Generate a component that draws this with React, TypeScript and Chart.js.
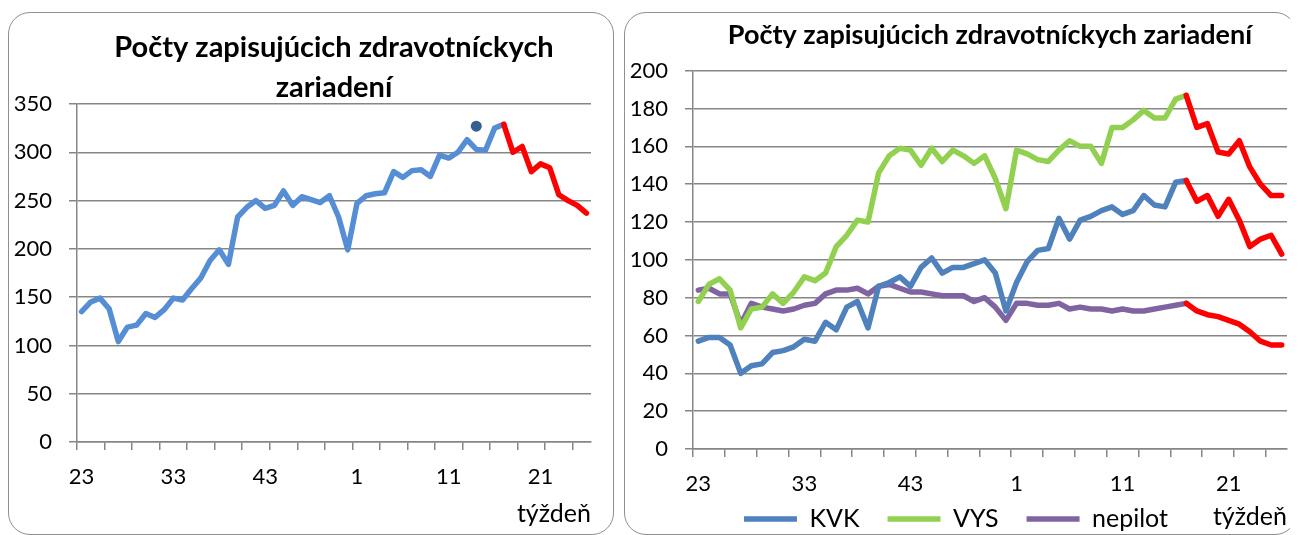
import React, { useEffect, useRef } from 'react';
import { Chart, registerables } from 'chart.js';

Chart.register(...registerables);

// ---------- data ----------
const WEEKS = [
  23, 24, 25, 26, 27, 28, 29, 30, 31, 32, 33, 34, 35, 36, 37, 38, 39, 40, 41, 42,
  43, 44, 45, 46, 47, 48, 49, 50, 51, 52, 1, 2, 3, 4, 5, 6, 7, 8, 9, 10,
  11, 12, 13, 14, 15, 16, 17, 18, 19, 20, 21, 22, 23, 24, 25, 26,
];

const TOTAL = [
  135, 145, 149, 138, 104, 119, 121, 133, 129, 137,
  149, 147, 159, 170, 188, 199, 184, 233, 243, 250,
  242, 245, 260, 245, 254, 251, 248, 255, 233, 199,
  247, 255, 257, 258, 280, 274, 281, 282, 275, 297,
  294, 300, 313, 303, 302, 325, 329, 300, 306, 280,
  288, 284, 256, 250, 245, 237,
];

const MARKER_WEEK = '14';
const MARKER_VALUE = 327;

const KVK = [
  57, 59, 59, 55, 40, 44, 45, 51, 52, 54,
  58, 57, 67, 63, 75, 78, 64, 86, 88, 91,
  86, 96, 101, 93, 96, 96, 98, 100, 93, 73,
  88, 99, 105, 106, 122, 111, 121, 123, 126, 128,
  124, 126, 134, 129, 128, 141, 142, 131, 134, 123,
  132, 121, 107, 111, 113, 103,
];

const VYS = [
  78, 87, 90, 84, 64, 74, 75, 82, 77, 83,
  91, 89, 93, 107, 113, 121, 120, 146, 155, 159,
  158, 150, 159, 152, 158, 155, 151, 155, 143, 127,
  158, 156, 153, 152, 158, 163, 160, 160, 151, 170,
  170, 174, 179, 175, 175, 185, 187, 170, 172, 157,
  156, 163, 149, 140, 134, 134,
];

const NEPILOT = [
  84, 85, 82, 82, 66, 77, 75, 74, 73, 74,
  76, 77, 82, 84, 84, 85, 82, 86, 87, 85,
  83, 83, 82, 81, 81, 81, 78, 80, 75, 68,
  77, 77, 76, 76, 77, 74, 75, 74, 74, 73,
  74, 73, 73, 74, 75, 76, 77, 73, 71, 70,
  68, 66, 62, 57, 55, 55,
];

// index of the last measured week; segments after it are forecast (red)
const FORECAST_FROM = 46;

const TITLE_LEFT = ['Počty zapisujúcich zdravotníckych', 'zariadení'];
const TITLE_RIGHT = 'Počty zapisujúcich zdravotníckych zariadení';
const X_TITLE = 'týždeň';
const SERIES_NAMES = ['KVK', 'VYS', 'nepilot'];

// ---------- styles ----------
const FONT = 'Lato';
const GRID = '#868686';
const RED = '#FF0000';
const TICK_FONT = { family: FONT, size: 22 };
const LABEL_FONT = { family: FONT, size: 25 };

const seg = (color: string) => ({
  borderColor: (c: any) => (c.p0DataIndex >= FORECAST_FROM ? RED : color),
});

const lineDs = (label: string, data: number[], color: string) => ({
  label,
  data,
  borderColor: color,
  backgroundColor: color,
  borderWidth: 5.5,
  pointRadius: 0,
  pointHoverRadius: 0,
  tension: 0,
  borderCapStyle: 'round',
  borderJoinStyle: 'round',
  segment: seg(color),
});

const xScale = (height: number, titlePadBottom: number, mirror: boolean, tickPad: number) => ({
  type: 'category',
  offset: true,
  grid: {
    offset: true,
    drawOnChartArea: false,
    drawTicks: true,
    tickLength: 8,
    lineWidth: 1.5,
    color: (c: any) => (c.index !== undefined && c.index % 3 === 0 ? GRID : 'rgba(0,0,0,0)'),
  },
  border: { display: true, color: GRID, width: 1.5 },
  ticks: {
    autoSkip: false,
    maxRotation: 0,
    minRotation: 0,
    mirror,
    padding: tickPad,
    color: '#000',
    font: TICK_FONT,
    callback: (_v: any, i: number) => (i % 10 === 0 ? String(WEEKS[i]) : ''),
  },
  title: {
    display: true,
    text: X_TITLE,
    align: 'end',
    color: '#000',
    font: LABEL_FONT,
    padding: { top: 0, bottom: titlePadBottom },
  },
  afterFit: (s: any) => {
    s.height = height;
  },
});

const yScale = (max: number, step: number) => ({
  min: 0,
  max,
  ticks: { stepSize: step, padding: 17, color: '#000', font: TICK_FONT },
  grid: { color: GRID, lineWidth: 1.5, tickLength: 8, drawTicks: true },
  border: { display: true, color: GRID, width: 1.5 },
  afterFit: (s: any) => {
    s.width = 68;
  },
});

const leftConfig = (): any => ({
  type: 'line',
  data: {
    labels: WEEKS.map(String),
    datasets: [
      lineDs('spolu', TOTAL, '#558ED5'),
      {
        label: 'bod',
        data: [{ x: MARKER_WEEK, y: MARKER_VALUE }],
        showLine: false,
        pointRadius: 5.5,
        pointBorderWidth: 0,
        pointBackgroundColor: '#365F91',
        backgroundColor: '#365F91',
        borderColor: '#365F91',
      },
    ],
  },
  options: {
    responsive: false,
    animation: false,
    events: [],
    layout: { padding: { left: 0, right: 22, top: 0, bottom: 0 } },
    plugins: {
      legend: { display: false },
      tooltip: { enabled: false },
      title: {
        display: true,
        text: TITLE_LEFT,
        fullSize: false,
        color: '#000',
        font: { family: FONT, size: 29, weight: 'bold', lineHeight: 40 / 29 },
        padding: { top: 15, bottom: -4 },
      },
    },
    scales: {
      x: xScale(92, 5, false, 14),
      y: yScale(350, 50),
    },
  },
});

const rightConfig = (): any => ({
  type: 'line',
  data: {
    labels: WEEKS.map(String),
    datasets: [
      lineDs(SERIES_NAMES[0], KVK, '#4F81BD'),
      lineDs(SERIES_NAMES[1], VYS, '#92D050'),
      lineDs(SERIES_NAMES[2], NEPILOT, '#8064A2'),
    ],
  },
  options: {
    responsive: false,
    animation: false,
    events: [],
    layout: { padding: { left: 0, right: 9, top: 0, bottom: -7.5 } },
    plugins: {
      legend: {
        display: true,
        position: 'bottom',
        labels: {
          usePointStyle: true,
          pointStyle: 'line',
          pointStyleWidth: 53,
          padding: 28,
          color: '#000',
          font: LABEL_FONT,
        },
      },
      tooltip: { enabled: false },
      title: {
        display: true,
        text: TITLE_RIGHT,
        fullSize: false,
        color: '#000',
        font: { family: FONT, size: 27, weight: 'bold', lineHeight: 1.2 },
        padding: { top: 5.8, bottom: 19.5 },
      },
    },
    scales: {
      x: xScale(29.5, -53.5, true, -47.8),
      y: yScale(200, 20),
    },
  },
});

function ChartBox({ config, width, height, left }: { config: () => any; width: number; height: number; left: number }) {
  const ref = useRef<HTMLCanvasElement>(null);
  useEffect(() => {
    const chart = new Chart(ref.current as HTMLCanvasElement, config());
    return () => chart.destroy();
  }, []);
  return (
    <div
      style={{
        position: 'absolute',
        left,
        top: 4,
        width,
        height,
        border: '1px solid #8f8f8f',
        borderRadius: 22,
        overflow: 'hidden',
        background: '#fff',
      }}
    >
      <canvas ref={ref} width={width} height={height} style={{ display: 'block', width, height }} />
    </div>
  );
}

export default function App() {
  return (
    <div style={{ position: 'relative', width: 1290, height: 527 }}>
      <ChartBox config={leftConfig} width={604} height={521} left={0} />
      <ChartBox config={rightConfig} width={671} height={521} left={616} />
    </div>
  );
}
